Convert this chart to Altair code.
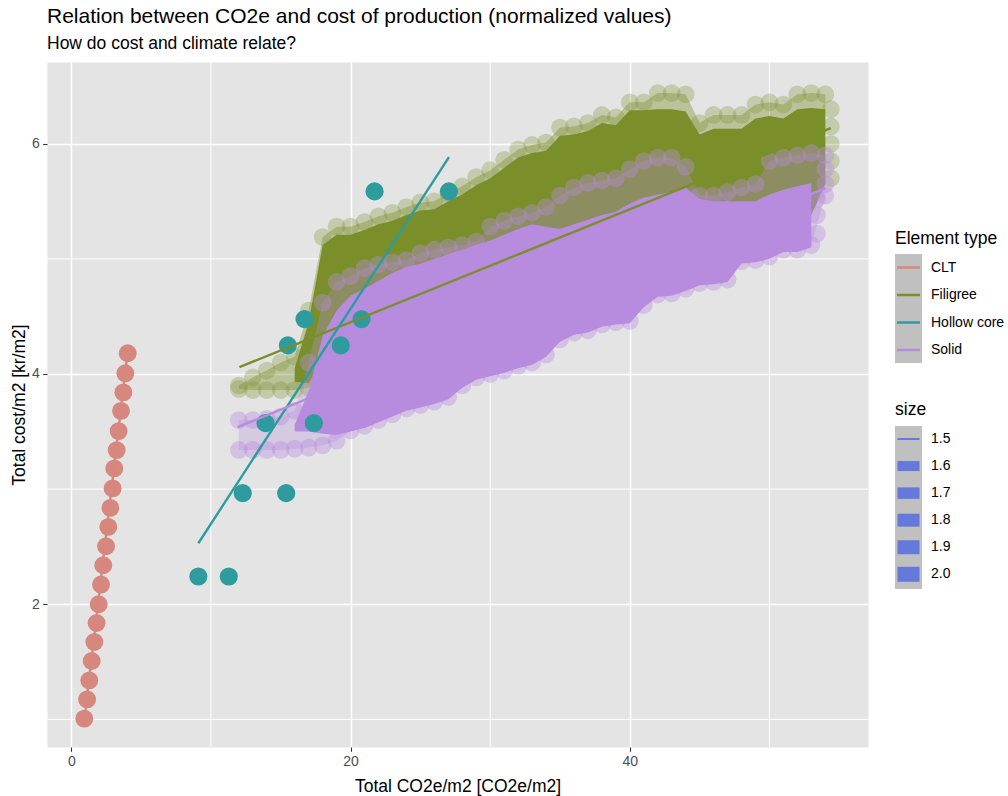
import altair as alt
import pandas as pd

TITLE = "Relation between CO2e and cost of production (normalized values)"
SUBTITLE = "How do cost and climate relate?"
X_TITLE = "Total CO2e/m2 [CO2e/m2]"
Y_TITLE = "Total cost/m2 [kr/m2]"

CATEGORIES = ["CLT", "Filigree", "Hollow core", "Solid"]
COLORS = ["#D6877E", "#7A8F2A", "#2E9C9E", "#B78CDE"]
SIZE_LEVELS = ["1.5", "1.6", "1.7", "1.8", "1.9", "2.0"]

X_TICKS = [0, 20, 40]
X_MINOR = [10, 30, 50]
Y_TICKS = [2, 4, 6]
Y_MINOR = [1, 3, 5]
X_DOMAIN = [-1.74, 57.06]
Y_DOMAIN = [0.76, 6.71]

# CLT
CLT_X = [4.04, 3.87, 3.73, 3.56, 3.39, 3.25, 3.08, 2.96, 2.80, 2.65,
         2.49, 2.29, 2.13, 1.96, 1.81, 1.65, 1.46, 1.29, 1.13, 0.93]
CLT_Y = [4.18, 4.006, 3.84, 3.68, 3.504, 3.339, 3.18, 3.006, 2.837, 2.672,
         2.504, 2.339, 2.171, 2.0, 1.837, 1.672, 1.507, 1.339, 1.174, 1.006]

# Hollow core
HC_X = [9.10, 11.28, 12.28, 15.39, 13.91, 17.37, 15.51, 19.30, 16.70, 20.79, 21.72, 27.05]
HC_Y = [2.241, 2.241, 2.965, 2.965, 3.573, 3.573, 4.248, 4.248, 4.477, 4.477, 5.586, 5.586]

# fitted lines (start / end)
FIT_X0 = [0.93, 12.04, 9.10, 11.92]
FIT_Y0 = [0.99, 4.06, 2.53, 3.539]
FIT_X1 = [4.04, 54.39, 27.05, 54.03]
FIT_Y1 = [4.20, 6.136, 5.884, 5.615]

# point clouds (Filigree, Solid), read column by column at x = 12 ... 54
CLOUD_X = [12, 13, 14, 15, 16, 17, 18, 19, 20, 21, 22, 23, 24, 25, 26, 27, 28, 29, 30, 31, 32,
           33, 34, 35, 36, 37, 38, 39, 40, 41, 42, 43, 44, 45, 46, 47, 48, 49, 50, 51, 52, 53, 54]

# Filigree: outermost points on top, lower edge (visible part), right end, dense core
FIL_TOP = [3.90, 3.97, 4.03, 4.10, 4.15, 4.55, 5.19, 5.28, 5.28, 5.32, 5.37, 5.40, 5.45, 5.49,
           5.50, 5.57, 5.63, 5.71, 5.77, 5.86, 5.95, 5.99, 6.01, 6.14, 6.15, 6.18, 6.25, 6.23,
           6.36, 6.36, 6.44, 6.44, 6.43, 6.18, 6.25, 6.25, 6.25, 6.34, 6.36, 6.34, 6.43, 6.44, 6.43]
FIL_LOW_X = [12, 13, 14, 15, 16, 17]
FIL_LOW_Y = [3.87, 3.86, 3.86, 3.86, 3.86, 3.88]
FIL_END_X = [54.4, 54.4, 54.4, 54.4, 54.4]
FIL_END_Y = [5.70, 5.85, 6.00, 6.15, 6.30]

FIL_CORE_X = [16, 17, 18, 19, 20, 21, 22, 23, 24, 25, 26, 27, 28, 29, 30, 31, 32, 33, 34, 35,
              36, 37, 38, 39, 40, 41, 42, 43, 44, 45, 46, 47, 48, 49, 50, 51, 52, 53, 54]
FIL_CORE_HI = [4.05, 4.45, 5.12, 5.21, 5.21, 5.25, 5.30, 5.33, 5.38, 5.42, 5.43, 5.50, 5.56,
               5.64, 5.70, 5.79, 5.88, 5.92, 5.94, 6.07, 6.08, 6.11, 6.18, 6.16, 6.29, 6.29,
               6.30, 6.30, 6.28, 6.08, 6.13, 6.13, 6.13, 6.22, 6.24, 6.22, 6.30, 6.31, 6.30]
FIL_CORE_LO = [3.93, 3.92, 4.10, 4.30, 4.40, 4.46, 4.53, 4.60, 4.65, 4.68, 4.72, 4.76, 4.80,
               4.84, 4.88, 4.93, 4.98, 5.02, 5.00, 4.98, 5.02, 5.06, 5.10, 5.13, 5.20, 5.25,
               5.28, 5.30, 5.35, 5.32, 5.30, 5.25, 5.22, 5.22, 5.28, 5.32, 5.35, 5.38, 5.65]

# Solid: outermost points top / bottom, right end, dense core
SOL_TOP = [3.60, 3.60, 3.61, 3.63, 3.68, 4.10, 4.62, 4.80, 4.85, 4.92, 4.95, 4.97, 4.99, 5.05,
           5.08, 5.10, 5.12, 5.15, 5.28, 5.33, 5.37, 5.40, 5.45, 5.55, 5.62, 5.66, 5.68, 5.70,
           5.78, 5.85, 5.88, 5.88, 5.80, 5.55, 5.55, 5.58, 5.62, 5.65, 5.85, 5.88, 5.90, 5.92, 5.90]
SOL_BOT = [3.34, 3.34, 3.34, 3.34, 3.35, 3.36, 3.38, 3.42, 3.51, 3.55, 3.60, 3.65, 3.70, 3.73,
           3.76, 3.80, 3.90, 3.97, 4.00, 4.03, 4.07, 4.10, 4.17, 4.30, 4.36, 4.38, 4.43, 4.45,
           4.46, 4.60, 4.69, 4.70, 4.74, 4.79, 4.80, 4.82, 4.98, 4.99, 5.02, 5.08, 5.08, 5.12, 5.55]
SOL_END_X = [53.4, 53.4, 53.4, 54.0, 54.0]
SOL_END_Y = [5.22, 5.38, 5.52, 5.65, 5.78]

SOL_CORE_X = [16, 17, 18, 19, 20, 21, 22, 23, 24, 25, 26, 27, 28, 29, 30, 31, 32, 33, 34, 35,
              36, 37, 38, 39, 40, 41, 42, 43, 44, 45, 46, 47, 48, 49, 50, 51, 52, 53]
SOL_CORE_HI = [3.56, 3.85, 4.33, 4.55, 4.68, 4.74, 4.81, 4.88, 4.93, 4.96, 5.00, 5.04, 5.08,
               5.12, 5.16, 5.21, 5.26, 5.30, 5.28, 5.26, 5.30, 5.34, 5.38, 5.41, 5.48, 5.53,
               5.56, 5.58, 5.62, 5.52, 5.50, 5.50, 5.50, 5.50, 5.56, 5.60, 5.63, 5.66]
SOL_CORE_LO = [3.50, 3.50, 3.48, 3.47, 3.50, 3.53, 3.58, 3.63, 3.68, 3.71, 3.74, 3.78, 3.88,
               3.95, 3.98, 4.01, 4.05, 4.08, 4.15, 4.28, 4.34, 4.36, 4.41, 4.43, 4.44, 4.58,
               4.67, 4.68, 4.72, 4.77, 4.78, 4.80, 4.96, 4.97, 5.00, 5.06, 5.06, 5.10]

FONT = "Liberation Sans"
PANEL_BG = "#E4E4E4"
KEY_BG = "#C0C0C0"
SIZE_COLOR = "#6479D9"

# ---------------- data tables ----------------
clt_df = pd.DataFrame({"x": CLT_X, "y": CLT_Y, "cls": "CLT"})
hc_df = pd.DataFrame({"x": HC_X, "y": HC_Y, "cls": "Hollow core"})
fit_df = pd.DataFrame({"cls": CATEGORIES, "x": FIT_X0, "y": FIT_Y0, "x2": FIT_X1, "y2": FIT_Y1})

# envelopes (whole spread of each cloud) and dense cores
fil_env = pd.DataFrame({"x": CLOUD_X, "y": FIL_LOW_Y + FIL_CORE_LO[2:], "y2": FIL_TOP,
                        "cls": "Filigree"})
fil_core = pd.DataFrame({"x": FIL_CORE_X, "y": FIL_CORE_LO, "y2": FIL_CORE_HI, "cls": "Filigree"})
sol_env = pd.DataFrame({"x": CLOUD_X, "y": SOL_BOT, "y2": SOL_TOP, "cls": "Solid"})
sol_core = pd.DataFrame({"x": SOL_CORE_X, "y": SOL_CORE_LO, "y2": SOL_CORE_HI, "cls": "Solid"})

fil_pts = pd.concat([
    pd.DataFrame({"x": CLOUD_X, "y": FIL_TOP}),
    pd.DataFrame({"x": FIL_LOW_X, "y": FIL_LOW_Y}),
    pd.DataFrame({"x": FIL_END_X, "y": FIL_END_Y}),
], ignore_index=True)
fil_pts["cls"] = "Filigree"

sol_pts = pd.concat([
    pd.DataFrame({"x": CLOUD_X, "y": SOL_TOP}),
    pd.DataFrame({"x": CLOUD_X, "y": SOL_BOT}),
    pd.DataFrame({"x": SOL_END_X, "y": SOL_END_Y}),
], ignore_index=True)
sol_pts["cls"] = "Solid"

XS = alt.Scale(domain=X_DOMAIN, nice=False, zero=False)
YS = alt.Scale(domain=Y_DOMAIN, nice=False, zero=False)

XAXIS = alt.Axis(values=X_TICKS, title=X_TITLE, grid=True, gridColor="white", gridWidth=1.5,
                 domain=False, tickColor="#333333", tickSize=4.3, tickWidth=1.1,
                 labelColor="#4D4D4D", labelFontSize=14, labelPadding=3,
                 titleFontSize=17.5, titleFontWeight="normal", titleColor="black", titlePadding=9)
YAXIS = alt.Axis(values=Y_TICKS, title=Y_TITLE, grid=True, gridColor="white", gridWidth=1.5,
                 domain=False, tickColor="#333333", tickSize=4.3, tickWidth=1.1,
                 labelColor="#4D4D4D", labelFontSize=14, labelPadding=3.5,
                 titleFontSize=17.5, titleFontWeight="normal", titleColor="black", titlePadding=3)


def xe(f="x"):
    return alt.X(f"{f}:Q", scale=XS, axis=XAXIS)


def ye(f="y"):
    return alt.Y(f"{f}:Q", scale=YS, axis=YAXIS)


def ce():
    return alt.Color("cls:N", scale=alt.Scale(domain=CATEGORIES, range=COLORS), legend=None)


minor_x = alt.Chart(pd.DataFrame({"x": X_MINOR})).mark_rule(color="white", strokeWidth=1).encode(x=xe())
minor_y = alt.Chart(pd.DataFrame({"y": Y_MINOR})).mark_rule(color="white", strokeWidth=1).encode(y=ye())


def band(df, op):
    return alt.Chart(df).mark_area(opacity=op, clip=True).encode(
        x=xe(), y=ye(), y2="y2:Q", color=ce())


def dots(df, op, size=314):
    return alt.Chart(df).mark_circle(size=size, opacity=op, clip=True).encode(
        x=xe(), y=ye(), color=ce())


fits = alt.Chart(fit_df).mark_rule(strokeWidth=2.4, clip=True).encode(
    x=xe(), y=ye(), x2="x2:Q", y2="y2:Q", color=ce())

main = alt.layer(
    minor_x, minor_y,
    band(fil_env, 0.4), band(fil_core, 1), dots(fil_pts, 0.3),
    band(sol_env, 0.3), band(sol_core, 1), dots(sol_pts, 0.4),
    dots(clt_df, 1, 320), dots(hc_df, 1, 330),
    fits,
).properties(width=821, height=685,
             view=alt.ViewBackground(fill=PANEL_BG, stroke="transparent"))

# ---------------- legend panel ----------------
cat_rows = pd.DataFrame({"label": CATEGORIES, "cls": CATEGORIES,
                         "py": [205.5 + 27.5 * i for i in range(len(CATEGORIES))]})
key_heights = [2, 10, 11.5, 13, 14, 15]
size_rows = pd.DataFrame({"label": SIZE_LEVELS,
                          "py": [377 + 27.06 * i for i in range(len(SIZE_LEVELS))]})
size_rows["t"] = size_rows["py"] - pd.Series(key_heights) / 2
size_rows["b"] = size_rows["py"] + pd.Series(key_heights) / 2
boxes = pd.DataFrame({"t": [192, 364], "b": [301, 527]})
titles = pd.DataFrame({"label": ["Element type", "size"], "py": [176.5, 348]})


def LY(f):
    return alt.Y(f"{f}:Q", scale=None, axis=None)


leg_boxes = alt.Chart(boxes).mark_rect(color=KEY_BG).encode(
    x=alt.value(0), x2=alt.value(27), y=LY("t"), y2="b:Q")
leg_lines = alt.Chart(cat_rows).mark_rule(strokeWidth=2.5).encode(
    x=alt.value(2), x2=alt.value(25), y=LY("py"), color=ce())
leg_cat_text = alt.Chart(cat_rows).mark_text(align="left", baseline="middle", fontSize=14,
                                              color="black").encode(
    x=alt.value(36), y=LY("py"), text="label:N")
leg_size_rect = alt.Chart(size_rows).mark_rect(color=SIZE_COLOR).encode(
    x=alt.value(2.5), x2=alt.value(24.5), y=LY("t"), y2="b:Q")
leg_size_text = alt.Chart(size_rows).mark_text(align="left", baseline="middle", fontSize=14,
                                               color="black").encode(
    x=alt.value(36), y=LY("py"), text="label:N")
leg_titles = alt.Chart(titles).mark_text(align="left", baseline="middle", fontSize=17.5,
                                         color="black").encode(
    x=alt.value(0), y=LY("py"), text="label:N")

legend = alt.layer(leg_boxes, leg_lines, leg_cat_text, leg_size_rect, leg_size_text,
                   leg_titles).properties(
    width=112, height=685, view=alt.ViewBackground(fill="white", stroke="transparent"))

chart = alt.hconcat(main, legend, spacing=25).properties(
    title=alt.TitleParams(text=TITLE, subtitle=SUBTITLE, anchor="start", frame="group",
                          fontSize=21, fontWeight="normal", color="black",
                          subtitleFontSize=17.5, subtitleColor="black", subtitlePadding=8,
                          offset=9, font=FONT, subtitleFont=FONT),
    padding={"left": 9, "top": 5, "right": 0, "bottom": 0},
    background="white",
).configure(font=FONT).configure_view(stroke="transparent")

chart.save("out.html", embed_options={"renderer": "svg", "actions": False})
